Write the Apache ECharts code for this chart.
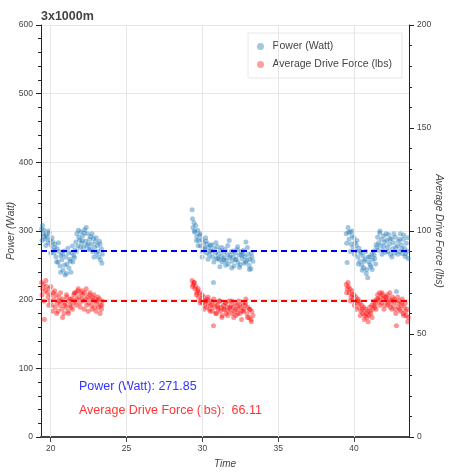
<!DOCTYPE html>
<html>
<head>
<meta charset="utf-8">
<script src="https://cdn.jsdelivr.net/npm/echarts@6/dist/echarts.min.js"></script>
<style>html,body{margin:0;padding:0;background:#fff}#c{width:450px;height:473px}</style>
</head>
<body>
<div id="c"></div>
<script>
const titleText = '3x1000m';
const powerName = 'Power (Watt)';
const forceName = 'Average Drive Force (lbs)';
const powerMean = 271.85;
const forceMean = 66.11;
const xTicks = [20, 25, 30, 35, 40];

const time1 = [19.40,19.46,19.52,19.58,19.64,19.71,19.77,19.83,19.90,19.96,20.03,20.09,20.16,20.22,20.29,20.35,20.42,20.48,20.55,20.61,20.68,20.74,20.81,20.87,20.94,21.00,21.07,21.13,21.20,21.26,21.33,21.39,21.46,21.52,21.59,21.65,21.72,21.78,21.85,21.91,21.98,22.04,22.11,22.17,22.24,22.30,22.37,22.43,22.50,22.56,22.63,22.69,22.76,22.82,22.89,22.95,23.02,23.08,23.15,23.21,23.28,23.34,23.40];
const power1 = [303,308,296,301,288,294, 291,283,297,286,279,290,272, 268,281,262,274,255,270,249,264, 258,243,271,236,262,252,275,246,259, 240,268,255,264,272, 284,296,278,291,287,299,282, 293,276,302,285,279,296,273,288, 292,281,270,289,276,284,268, 279,262,285,258,274,266];
const force1 = [75,72,74,57,71,73, 70,68,72,66,69,64,70, 67,63,69,65,61,68,64,66, 62,67,60,65,63,68,61,66,64, 63,67,65,69,66, 70,67,71,68,65,70,67, 69,66,70,67,64,68,65,69, 67,64,68,66,63,67,65, 66,63,67,64,62,66];
const time1b = [19.43,19.55,19.68,19.87,20.00,20.13,20.26,20.39,20.52,20.65,20.78,20.91,21.04,21.17,21.30,21.43,21.56,21.69,21.82,21.95,22.08,22.21,22.34,22.47,22.60,22.73,22.86,22.99,23.12,23.25,23.37];
const power1b = [286,292,279,300,268,284,276,255,283,240,266,250,238,268,256,278,261,270,301,276,286,297,305,281,274,296,262,290,270,281,253];
const force1b = [69,66,76,64,73,61,71,60,66,70,58,64,69,60,67,62,70,64,72,63,71,62,72,61,70,62,69,61,68,60,64];

const time2 = [29.32,29.38,29.44,29.50,29.56,29.63,29.69,29.75,29.82,29.88,29.95,30.01,30.08,30.14,30.21,30.27,30.34,30.40,30.47,30.53,30.60,30.66,30.73,30.79,30.86,30.92,30.99,31.05,31.12,31.18,31.25,31.31,31.38,31.44,31.51,31.57,31.64,31.70,31.77,31.83,31.90,31.96,32.03,32.09,32.16,32.22,32.29,32.35,32.42,32.48,32.55,32.61,32.68,32.74,32.81,32.87,32.94,33.00,33.07,33.13,33.20,33.26,33.33];
const power2 = [331,305,312,298,308,292,301,286,294,278,288,270,283,274,290,268,281,276,265,279,271,262,225,274,268,260,277,266,258,272,263,255,269,261,273,257,266,252,286,264,270,256,262,249,268,259,273,254,265,251,270,260,267,253,262,284,257,266,250,259,245,262,256];
const force2 = [76,74,75,72,73,70,71,68,70,66,67,65,68,64,66,63,67,65,62,64,66,61,54,63,65,60,64,62,66,61,63,59,64,62,65,60,63,61,66,62,64,60,63,61,65,59,64,62,66,60,63,61,65,62,64,67,60,63,58,62,57,61,59];
const time2b = [29.35,29.47,29.60,29.72,29.85,29.98,30.11,30.24,30.37,30.50,30.63,30.76,30.89,31.02,31.15,31.28,31.41,31.54,31.67,31.80,31.93,32.06,32.19,32.32,32.45,32.58,32.71,32.84,32.97,33.10,33.23];
const power2b = [318,300,286,279,296,262,276,285,259,271,280,255,283,260,248,276,258,250,279,261,246,271,258,277,247,265,272,255,276,244,268];
const force2b = [73,75,69,72,65,69,62,66,68,61,64,67,60,63,66,58,62,65,59,63,66,58,62,60,64,57,61,65,58,62,56];

const time3 = [39.48,39.54,39.60,39.67,39.73,39.80,39.86,39.93,39.99,40.06,40.12,40.19,40.25,40.32,40.38,40.45,40.51,40.58,40.64,40.71,40.77,40.84,40.90,40.97,41.03,41.10,41.16,41.23,41.29,41.36,41.42,41.49,41.55,41.62,41.68,41.75,41.81,41.88,41.94,42.01,42.07,42.14,42.20,42.27,42.33,42.40,42.46,42.53,42.59,42.66,42.72,42.79,42.85,42.92,42.98,43.05,43.11,43.18,43.24,43.31,43.37,43.44,43.50,43.57];
const power3 = [296,254,305,288,299,281,293,276,290,283,271,286,262,275,256,268,250,264,246,259,270,244,232,255,262,248,266,258,271,260,252,276,291,283,297,279,288,272,293,284,269,287,276,295,281,266,289,274,283,268,291,212,278,285,270,296,280,267,288,275,263,282,271,260];
const force3 = [74,72,75,70,72,68,71,67,69,66,68,65,67,63,65,61,64,60,63,59,62,58,61,59,63,60,64,62,66,63,65,67,69,66,70,68,65,69,67,64,68,66,69,65,67,63,66,68,64,67,62,54,65,63,66,61,64,67,60,63,65,59,62,58];
const time3b = [39.51,39.63,39.76,39.89,40.02,40.15,40.28,40.41,40.54,40.67,40.80,40.93,41.06,41.19,41.32,41.45,41.58,41.71,41.84,41.97,42.10,42.23,42.36,42.49,42.62,42.75,42.88,43.01,43.14,43.27,43.40,43.53];
const power3b = [282,298,270,300,266,279,252,270,243,256,238,262,251,244,265,280,272,300,266,278,296,270,288,262,296,276,266,288,274,294,267,290];
const force3b = [70,73,66,69,64,62,66,59,62,57,60,56,61,58,64,62,67,64,70,62,68,64,70,62,66,60,68,62,65,59,61,56];

const times = [time1, time1b, time2, time2b, time3, time3b];
const powers = [power1, power1b, power2, power2b, power3, power3b];
const forces = [force1, force1b, force2, force2b, force3, force3b];
const powerData = [], forceData = [];
times.forEach((ts, k) => ts.forEach((t, i) => {
  powerData.push([t, powers[k][i]]);
  forceData.push([t, forces[k][i]]);
}));

const FONT = '"Liberation Sans", Arial, sans-serif';
const chart = echarts.init(document.getElementById('c'), null, {renderer: 'canvas'});
chart.setOption({
  animation: false,
  backgroundColor: '#fff',
  title: {text: titleText, left: 36, top: 5, textStyle: {fontFamily: FONT, fontSize: 12.5, fontWeight: 'bold', color: '#444'}},
  grid: {left: 41, right: 41, top: 25, bottom: 36, containLabel: false, outerBoundsMode: 'none'},
  legend: {
    orient: 'vertical', left: 248, top: 33, width: 153,
    padding: [8, 10, 8, 9], itemGap: 7,
    backgroundColor: '#fff', borderColor: '#e8e8e8', borderWidth: 1,
    itemWidth: 14, itemHeight: 7, icon: 'circle',
    textStyle: {fontFamily: FONT, fontSize: 10.5, color: '#444'},
    data: [
      {name: powerName, itemStyle: {color: '#a5c6df', opacity: 1}},
      {name: forceName, itemStyle: {color: '#ff9e9e', opacity: 1}}
    ]
  },
  xAxis: {
    type: 'value', min: 19.36, max: 43.62,
    name: 'Time', nameLocation: 'middle', nameGap: 22, nameMoveOverlap: false,
    nameTextStyle: {fontFamily: FONT, fontSize: 10, fontStyle: 'italic', color: '#444'},
    axisLine: {show: true, onZero: false, lineStyle: {color: '#444', width: 2}},
    axisTick: {show: true, length: 5, customValues: xTicks, lineStyle: {color: '#444'}},
    axisLabel: {customValues: xTicks, fontFamily: FONT, fontSize: 8.5, color: '#444', margin: 7},
    splitLine: {show: false}
  },
  yAxis: [{
    type: 'value', min: 0, max: 600, interval: 100, position: 'left',
    name: powerName, nameLocation: 'middle', nameGap: 25, nameRotate: 90, nameMoveOverlap: false,
    nameTextStyle: {fontFamily: FONT, fontSize: 10, fontStyle: 'italic', color: '#444'},
    axisLine: {show: true, lineStyle: {color: '#222', width: 1}},
    axisTick: {show: true, length: 5, lineStyle: {color: '#222'}},
    minorTick: {show: true, splitNumber: 5, length: 3, lineStyle: {color: '#222'}},
    axisLabel: {fontFamily: FONT, fontSize: 8.5, color: '#444', margin: 8},
    splitLine: {show: true, lineStyle: {color: '#e6e6e6', width: 1}}
  }, {
    type: 'value', min: 0, max: 200, interval: 50, position: 'right',
    name: forceName, nameLocation: 'middle', nameGap: 25, nameRotate: -90, nameMoveOverlap: false,
    nameTextStyle: {fontFamily: FONT, fontSize: 10, fontStyle: 'italic', color: '#444'},
    axisLine: {show: true, lineStyle: {color: '#222', width: 1}},
    axisTick: {show: true, length: 5, lineStyle: {color: '#222'}},
    minorTick: {show: true, splitNumber: 5, length: 3, lineStyle: {color: '#222'}},
    axisLabel: {fontFamily: FONT, fontSize: 8.5, color: '#444', margin: 8},
    splitLine: {show: false}
  }],
  graphic: [
    {type: 'text', left: 79, top: 380, style: {text: powerName + ': ' + powerMean.toFixed(2), fill: '#3535ff', font: '12.5px ' + FONT}},
    {type: 'text', left: 79, top: 404, style: {text: forceName + ':  ' + forceMean.toFixed(2), fill: '#ff3535', font: '12.5px ' + FONT}}
  ],
  series: [
    {
      name: 'xgrid', type: 'line', data: [], z: 0, silent: true,
      markLine: {silent: true, symbol: 'none', label: {show: false}, animation: false,
        lineStyle: {color: '#e6e6e6', type: 'solid', width: 1},
        data: xTicks.map(v => ({xAxis: v}))}
    },
    {
      name: powerName, type: 'scatter', yAxisIndex: 0, data: powerData,
      symbolSize: 5, itemStyle: {color: '#1f77b4', opacity: 0.42},
      markLine: {silent: true, symbol: 'none', label: {show: false}, animation: false,
        lineStyle: {color: '#0000ff', type: [6, 4], width: 2, opacity: 1},
        data: [{yAxis: powerMean}]}
    },
    {
      name: forceName, type: 'scatter', yAxisIndex: 1, data: forceData,
      symbolSize: 5, itemStyle: {color: '#ff0000', opacity: 0.42},
      markLine: {silent: true, symbol: 'none', label: {show: false}, animation: false,
        lineStyle: {color: '#ff0000', type: [6, 4], width: 2, opacity: 1},
        data: [{yAxis: forceMean}]}
    }
  ]
});
</script>
</body>
</html>
